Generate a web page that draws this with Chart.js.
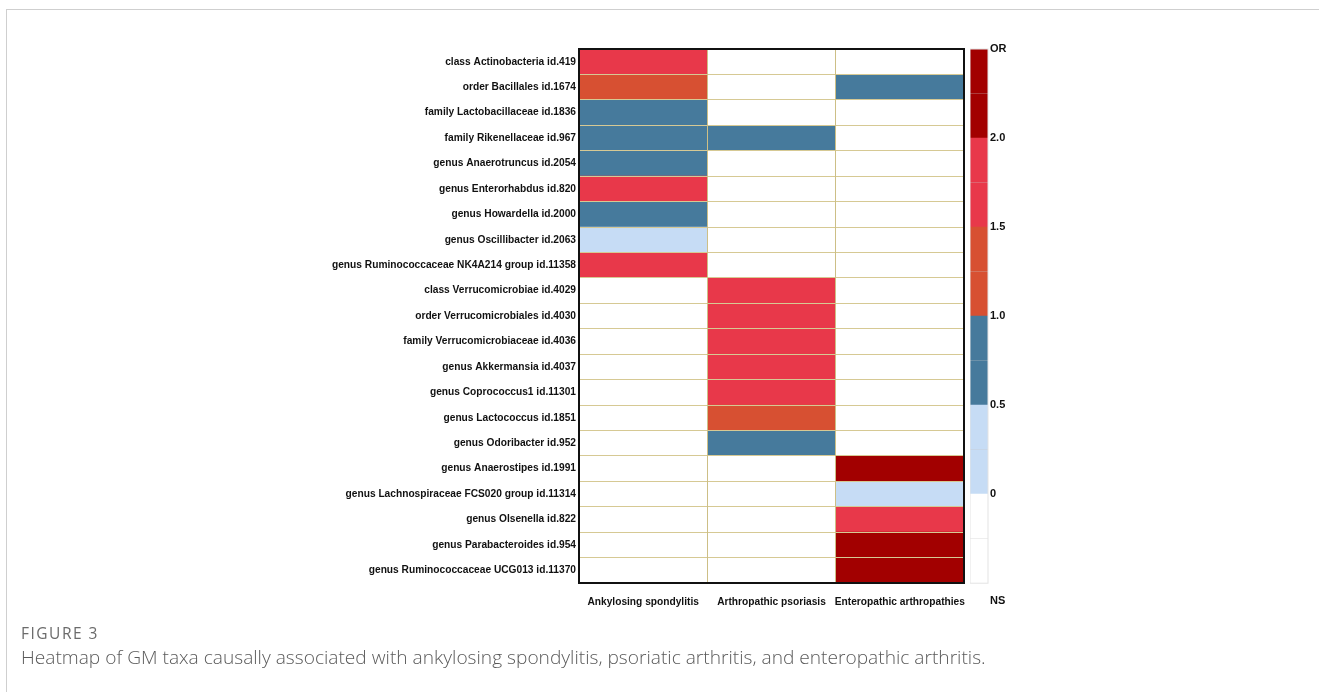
<!DOCTYPE html>
<html>
<head>
<meta charset="utf-8">
<script src="https://cdn.jsdelivr.net/npm/chart.js@4"></script>
<style>
  html, body { margin: 0; padding: 0; background: #fff; width: 1319px; height: 692px; overflow: hidden; }
  .frame { position: absolute; left: 6px; top: 9px; width: 1400px; height: 800px;
           border-left: 1px solid #cfcfcf; border-top: 1px solid #cfcfcf; }
  #heat { position: absolute; left: 0; top: 0; }
  #scale { position: absolute; left: 970px; top: 0; }
  .fig { position: absolute; left: 21px; top: 622px; font: 15.5px "Open Sans", sans-serif; color: #6b6b6b; letter-spacing: 1.5px; }
  .cap { position: absolute; left: 21px; top: 644px; font: 300 19.15px "Open Sans", sans-serif; color: #5a5a5a; white-space: nowrap; }
</style>
</head>
<body>
<div class="frame"></div>
<canvas id="heat" width="1319" height="692"></canvas>
<canvas id="scale" width="50" height="692"></canvas>
<div class="fig">FIGURE 3</div>
<div class="cap">Heatmap of GM taxa causally associated with ankylosing spondylitis, psoriatic arthritis, and enteropathic arthritis.</div>
<script>
// ---- data ----
const rowLabels = [
  'class Actinobacteria id.419',
  'order Bacillales id.1674',
  'family Lactobacillaceae id.1836',
  'family Rikenellaceae id.967',
  'genus Anaerotruncus id.2054',
  'genus Enterorhabdus id.820',
  'genus Howardella id.2000',
  'genus Oscillibacter id.2063',
  'genus Ruminococcaceae NK4A214 group id.11358',
  'class Verrucomicrobiae id.4029',
  'order Verrucomicrobiales id.4030',
  'family Verrucomicrobiaceae id.4036',
  'genus Akkermansia id.4037',
  'genus Coprococcus1 id.11301',
  'genus Lactococcus id.1851',
  'genus Odoribacter id.952',
  'genus Anaerostipes id.1991',
  'genus Lachnospiraceae FCS020 group id.11314',
  'genus Olsenella id.822',
  'genus Parabacteroides id.954',
  'genus Ruminococcaceae UCG013 id.11370'
];
const columns = ['Ankylosing spondylitis', 'Arthropathic psoriasis', 'Enteropathic arthropathies'];

// OR class per cell: 0 = NS, 1 = 0-0.5, 2 = 0.5-1.0, 3 = 1.0-1.5, 4 = 1.5-2.0, 5 = >2.0
const levelAS = [4, 3, 2, 2, 2, 4, 2, 1, 4, 0, 0, 0, 0, 0, 0, 0, 0, 0, 0, 0, 0];
const levelAP = [0, 0, 0, 2, 0, 0, 0, 0, 0, 4, 4, 4, 4, 4, 3, 2, 0, 0, 0, 0, 0];
const levelEA = [0, 2, 0, 0, 0, 0, 0, 0, 0, 0, 0, 0, 0, 0, 0, 0, 5, 1, 4, 5, 5];

const levelColors = ['#ffffff', '#c6dcf5', '#467a9c', '#d75032', '#e8384a', '#a20000'];
const scaleLabels = ['NS', '0', '0.5', '1.0', '1.5', '2.0', 'OR'];

const FONT = 'Liberation Sans, Arial, sans-serif';
const GRID = '#d6c994';

// black box round the plot area
const framePlugin = {
  id: 'frame',
  afterDraw(chart, args, opts) {
    const a = chart.chartArea, ctx = chart.ctx;
    let bottom = a.bottom;
    if (opts.toValue !== undefined) bottom = chart.scales.y.getPixelForValue(opts.toValue);
    ctx.save();
    ctx.strokeStyle = opts.color;
    ctx.lineWidth = opts.width;
    ctx.strokeRect(a.left, a.top, a.right - a.left, bottom - a.top);
    ctx.restore();
  }
};

// ---- heatmap ----
const levels = [levelAS, levelAP, levelEA];
new Chart(document.getElementById('heat'), {
  type: 'bar',
  data: {
    labels: rowLabels,
    datasets: columns.map((c, i) => ({
      label: c,
      data: rowLabels.map(() => 1),
      backgroundColor: levels[i].map(l => levelColors[l]),
      borderWidth: 0,
      barPercentage: 1,
      categoryPercentage: 1
    }))
  },
  options: {
    indexAxis: 'y',
    responsive: false,
    animation: false,
    layout: { padding: { left: 0, right: 355, top: 49, bottom: 0 } },
    plugins: {
      legend: { display: false },
      tooltip: { enabled: false },
      frame: { color: '#111', width: 2 }
    },
    scales: {
      y: {
        stacked: true,
        grid: { color: GRID, lineWidth: 1, drawTicks: false, offset: true, z: 1 },
        border: { display: false },
        ticks: { padding: 3, color: '#111', font: { family: FONT, size: 10.2, weight: 'bold' } },
        afterFit(s) { s.width = 579; }
      },
      x: {
        stacked: true,
        min: 0, max: 3,
        grid: { color: '#cdbf86', lineWidth: 1, drawTicks: false, z: 1 },
        border: { display: false },
        ticks: { display: false, stepSize: 1 },
        afterFit(s) { s.height = 0; }
      },
      x2: {
        type: 'linear',
        position: 'bottom',
        min: 0, max: 3,
        grid: { display: false },
        border: { display: false },
        afterBuildTicks(s) { s.ticks = columns.map((c, i) => ({ value: i + 0.5 })); },
        ticks: {
          padding: 5, color: '#111', maxRotation: 0, autoSkip: false,
          font: { family: FONT, size: 10.2, weight: 'bold' },
          callback: (v) => columns[Math.floor(v)]
        },
        afterFit(s) { s.height = 109; }
      }
    }
  },
  plugins: [framePlugin]
});

// ---- colour scale ----
new Chart(document.getElementById('scale'), {
  type: 'bar',
  data: {
    labels: ['OR'],
    datasets: levelColors.map(c => ({
      data: [1],
      backgroundColor: c,
      borderWidth: 0,
      barPercentage: 1,
      categoryPercentage: 1
    }))
  },
  options: {
    responsive: false,
    animation: false,
    layout: { padding: { left: 0, right: 0, top: 49, bottom: 91 } },
    plugins: {
      legend: { display: false },
      tooltip: { enabled: false },
      frame: { color: '#e3e3e3', width: 1, toValue: 0 }
    },
    scales: {
      x: { stacked: true, display: false },
      y: {
        stacked: true,
        position: 'right',
        min: -0.2, max: 6,
        border: { display: false },
        afterBuildTicks(s) {
          const t = [{ value: -0.2 }];
          for (let v = 0.5; v < 6; v += 1) t.push({ value: v });
          for (let v = 1; v <= 6; v += 1) t.push({ value: v });
          s.ticks = t;
        },
        grid: {
          drawTicks: false,
          z: 1,
          color: (ctx) => (ctx.tick && ctx.tick.value % 1 === 0.5) ? 'rgba(200,200,200,0.3)' : 'rgba(0,0,0,0)'
        },
        ticks: {
          padding: 2, color: '#111', autoSkip: false,
          font: { family: FONT, size: 11, weight: 'bold' },
          callback: (v) => {
            if (v === -0.2) return scaleLabels[0];
            if (v % 1 !== 0) return '';
            return scaleLabels[v];
          }
        },
        afterFit(s) { s.width = 32; }
      }
    }
  },
  plugins: [framePlugin]
});
</script>
</body>
</html>
